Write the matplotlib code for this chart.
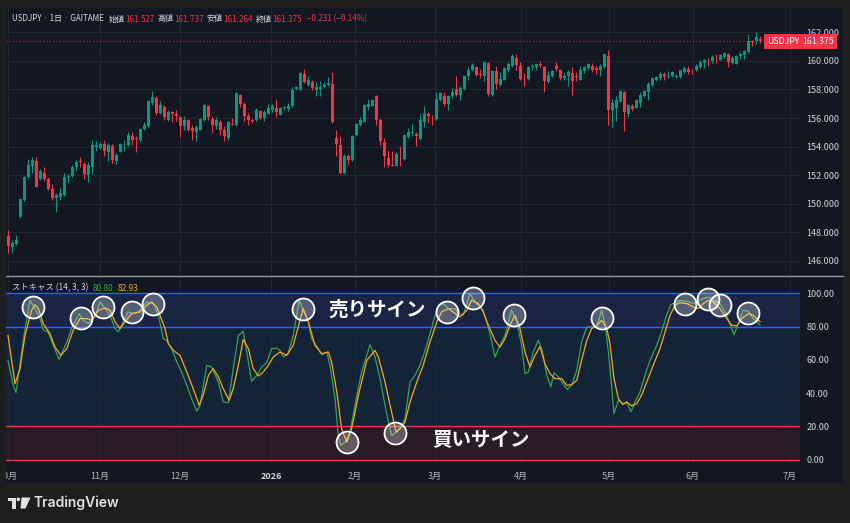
import matplotlib
matplotlib.use('Agg')
import matplotlib.pyplot as plt
import matplotlib.transforms as mtransforms
from matplotlib.patches import Rectangle, Polygon, Circle
from matplotlib.lines import Line2D
import numpy as np

plt.rcParams['font.family'] = ['Noto Sans CJK JP', 'DejaVu Sans']

# USDJPY daily candles
opens = [147.76, 146.99, 147.20, 149.05, 150.24, 151.85, 152.62, 153.02, 151.76, 152.15,
         151.76, 151.05, 150.40, 150.47, 150.63, 151.87, 151.92, 152.55, 152.99, 152.78,
         152.00, 152.60, 154.00, 153.92, 154.16, 153.60, 154.07, 153.02, 153.64, 154.10,
         154.09, 154.77, 154.58, 154.49, 155.23, 155.42, 157.03, 157.43, 156.35, 156.80,
         155.89, 156.40, 156.26, 156.07, 155.42, 155.84, 155.28, 155.00, 155.19, 155.84,
         156.82, 155.93, 155.42, 155.70, 155.19, 154.60, 155.61, 155.49, 157.64, 157.00,
         156.16, 155.84, 155.84, 156.47, 155.98, 156.30, 156.59, 156.68, 156.24, 156.68,
         156.63, 156.82, 158.06, 157.99, 159.11, 158.34, 158.55, 157.99, 158.06, 158.15,
         158.29, 158.38, 154.60, 154.14, 152.15, 153.32, 153.04, 154.84, 155.54, 155.75,
         156.77, 156.87, 157.52, 155.84, 154.35, 153.18, 152.74, 152.67, 153.37, 153.13,
         154.67, 154.95, 154.86, 154.56, 155.75, 156.30, 156.17, 155.93, 157.29, 157.52,
         157.00, 157.52, 158.06, 157.64, 158.03, 158.92, 159.34, 159.57, 159.08, 158.97,
         159.83, 157.64, 159.27, 158.34, 158.69, 159.34, 159.67, 160.20, 159.67, 158.80,
         158.76, 159.55, 159.57, 159.76, 159.57, 158.50, 158.92, 159.62, 159.34, 158.78,
         158.97, 159.15, 158.97, 158.69, 159.29, 159.48, 159.62, 159.53, 159.39, 159.57,
         160.36, 156.54, 156.68, 157.15, 157.85, 156.26, 156.86, 156.73, 157.05, 157.57,
         157.80, 158.34, 158.64, 158.78, 159.06, 158.85, 158.92, 158.87, 158.87, 159.25,
         159.43, 159.25, 159.34, 159.57, 159.85, 160.09, 159.99, 160.23, 160.09, 160.27,
         160.50, 159.85, 159.81, 160.32, 160.41, 160.60, 161.39, 161.39, 161.527]
highs = [148.18, 147.48, 147.79, 150.38, 151.95, 153.13, 153.27, 153.27, 152.43, 152.60,
         151.87, 151.40, 150.75, 151.10, 152.15, 152.10, 152.74, 153.09, 153.27, 152.90,
         152.90, 154.49, 154.37, 154.30, 154.49, 154.25, 154.20, 153.55, 154.25, 154.44,
         155.05, 155.00, 154.72, 155.30, 155.74, 157.29, 157.92, 157.52, 157.17, 156.89,
         156.54, 156.49, 156.59, 156.17, 156.17, 155.93, 155.54, 155.54, 156.00, 157.00,
         156.94, 156.12, 156.07, 155.89, 155.42, 155.77, 156.00, 157.80, 157.71, 157.10,
         156.35, 155.93, 156.68, 156.59, 156.54, 157.00, 157.00, 157.33, 156.77, 156.87,
         157.05, 158.17, 158.22, 159.20, 159.43, 158.92, 158.64, 158.55, 158.59, 158.55,
         158.87, 159.25, 155.19, 154.77, 153.51, 153.51, 154.84, 155.65, 156.07, 157.00,
         157.33, 157.33, 157.64, 156.00, 154.60, 153.79, 153.69, 153.60, 154.02, 154.88,
         155.30, 155.61, 155.05, 156.30, 156.87, 156.40, 156.21, 157.85, 157.85, 157.85,
         157.64, 158.08, 158.92, 158.22, 159.04, 159.55, 159.85, 159.67, 159.43, 159.95,
         159.90, 159.34, 159.67, 159.20, 159.57, 159.90, 160.46, 160.50, 159.95, 159.15,
         159.67, 159.76, 159.85, 160.00, 159.67, 159.27, 159.39, 159.90, 159.43, 159.15,
         159.34, 159.55, 159.20, 159.67, 159.67, 159.85, 159.85, 159.67, 159.76, 160.50,
         160.79, 157.33, 157.52, 157.94, 157.90, 157.00, 157.00, 157.33, 157.80, 157.99,
         158.50, 158.83, 158.97, 159.20, 159.25, 159.29, 159.27, 159.11, 159.39, 159.62,
         159.67, 159.43, 159.76, 160.04, 160.13, 160.23, 160.41, 160.46, 160.50, 160.65,
         160.55, 160.36, 160.41, 160.65, 160.79, 161.86, 161.49, 162.00, 161.737]
lows = [146.58, 146.58, 147.13, 149.00, 150.20, 151.80, 152.15, 151.15, 151.64, 151.57,
        150.98, 150.24, 149.40, 150.28, 150.56, 151.45, 151.87, 152.39, 152.60, 151.75,
        151.52, 152.10, 153.67, 153.85, 153.32, 153.00, 152.85, 152.80, 153.60, 153.72,
        154.02, 154.14, 153.60, 154.42, 155.19, 155.35, 156.94, 156.21, 156.31, 155.84,
        155.82, 155.72, 155.77, 154.67, 155.19, 155.07, 154.49, 154.37, 155.14, 155.77,
        155.89, 154.95, 155.23, 154.81, 154.37, 154.49, 155.50, 155.42, 156.77, 155.77,
        155.54, 155.65, 155.77, 155.93, 155.77, 156.26, 156.45, 156.07, 156.21, 156.59,
        156.47, 156.77, 157.99, 157.94, 158.45, 158.22, 157.99, 157.52, 157.52, 158.10,
        158.22, 155.65, 153.32, 152.10, 152.10, 152.74, 152.97, 154.77, 155.47, 155.70,
        156.59, 156.82, 155.54, 154.14, 152.60, 152.60, 152.62, 152.62, 152.62, 153.09,
        154.60, 154.72, 154.02, 154.49, 155.40, 155.65, 155.54, 155.89, 157.17, 156.87,
        156.59, 157.40, 157.57, 157.29, 157.99, 158.69, 159.30, 158.97, 158.78, 158.59,
        157.52, 157.57, 158.04, 158.27, 158.64, 159.20, 159.57, 159.34, 158.64, 158.27,
        158.69, 159.34, 159.34, 159.57, 157.85, 158.45, 158.87, 159.30, 158.64, 158.69,
        158.27, 157.59, 158.59, 158.64, 159.15, 159.39, 159.25, 159.11, 158.97, 159.50,
        155.54, 155.40, 155.77, 157.10, 155.07, 156.07, 156.47, 156.68, 156.77, 157.48,
        157.29, 158.27, 158.59, 158.69, 158.64, 158.80, 158.87, 158.78, 158.80, 159.15,
        159.11, 159.11, 159.29, 159.53, 159.48, 159.62, 159.85, 159.85, 160.04, 160.20,
        159.57, 159.81, 159.76, 160.13, 160.13, 160.55, 161.02, 161.16, 161.264]
closes = [147.06, 147.23, 147.44, 150.33, 151.90, 152.69, 153.09, 151.15, 152.32, 151.76,
          151.05, 150.40, 150.59, 150.75, 151.90, 151.96, 152.60, 152.90, 152.90, 152.08,
          152.73, 154.09, 154.09, 154.20, 153.67, 154.14, 153.04, 153.41, 154.16, 154.14,
          154.81, 154.46, 154.53, 155.26, 155.53, 157.19, 157.47, 156.35, 156.89, 156.07,
          156.45, 156.26, 156.12, 155.47, 155.89, 155.19, 155.12, 155.37, 155.93, 156.94,
          156.07, 155.54, 155.84, 155.19, 154.77, 155.70, 155.54, 157.78, 157.00, 156.16,
          155.89, 155.77, 156.59, 156.00, 156.45, 156.68, 156.87, 156.40, 156.68, 156.77,
          156.87, 157.94, 158.15, 159.15, 158.50, 158.64, 158.10, 158.15, 158.15, 158.34,
          158.45, 155.72, 154.20, 152.15, 153.37, 153.09, 154.77, 155.61, 155.84, 156.94,
          157.00, 157.24, 155.89, 154.42, 153.32, 152.74, 152.67, 153.51, 153.32, 154.84,
          155.00, 155.05, 154.72, 155.89, 156.35, 156.12, 156.12, 157.33, 157.75, 157.00,
          157.57, 157.85, 157.64, 158.08, 158.97, 159.34, 159.74, 159.04, 159.01, 159.90,
          157.71, 159.27, 158.41, 158.73, 159.48, 159.81, 160.32, 159.74, 158.73, 158.78,
          159.55, 159.62, 159.76, 159.72, 158.57, 159.04, 159.29, 159.43, 158.80, 158.97,
          159.20, 158.62, 158.85, 159.39, 159.57, 159.76, 159.34, 159.39, 159.62, 160.46,
          156.59, 157.05, 157.24, 157.89, 156.40, 156.91, 156.65, 157.24, 157.61, 157.89,
          158.41, 158.78, 158.85, 159.11, 158.92, 158.97, 159.20, 158.97, 159.34, 159.53,
          159.25, 159.20, 159.67, 159.95, 160.09, 160.04, 160.27, 160.18, 160.41, 160.55,
          159.95, 160.23, 160.36, 160.50, 160.69, 161.39, 161.30, 161.67, 161.375]

# Stochastic (14, 3, 3): %K and %D, vertices (bar index, value)
k_idx = [0, 1.3, 2, 4, 5.5, 6.75, 8, 8.8, 10, 11.3, 12.8, 14.7, 15.9, 17.8, 18.8, 20, 21.75,
         23, 24.25, 25.5, 26.75, 27.6, 28.8, 30, 31.3, 32.6, 34.7, 36.3, 37.6, 38.8, 39.7,
         40.9, 42.2, 43.4, 44.7, 45.9, 47.2, 48, 49.7, 50.9, 52.6, 53.8, 55.1, 56.3, 57.6,
         58.8, 59.7, 60.9, 62.2, 63.4, 64.7, 65.9, 67.2, 68, 68.8, 70, 71.3, 72.8, 73.8,
         75.1, 75.9, 77.6, 78.4, 79.7, 80.5, 81.75, 82.6, 83.2, 84.25, 85.5, 86.75, 88.4,
         90.5, 91.75, 93, 94.25, 95.1, 95.9, 97.2, 98.4, 99.25, 100.5, 101.75, 103, 104.7,
         106.3, 107.6, 108.8, 110.1, 111.75, 112.6, 113.8, 115.5, 116.75, 118.8, 120.5,
         121.75, 123, 124.25, 125.9, 127.2, 128.4, 129.25, 130.1, 131.3, 132.6, 133.5,
         134.7, 135.7, 136.5, 137.6, 138.7, 139.8, 140.9, 142.2, 143.4, 144.7, 145.9, 147.2,
         148.4, 149.25, 150.1, 150.9, 151.5, 152.6, 153.8, 154.8, 155.7, 156.75, 158,
         159.25, 160.5, 162.2, 163.4, 164.5, 165.7, 166.75, 168, 169.7, 171.3, 172.6, 173.8,
         175.1, 176.3, 178, 179.25, 180.3, 181.5, 182.6, 183.8, 185.1, 186.3, 188]
k_val = [59.7, 44.7, 40.3, 74.7, 95.8, 90.8, 84.8, 77.8, 76.8, 68.7, 60.3, 70.7, 78.8, 87.8,
         83.8, 81.8, 85.8, 94.8, 90.8, 86.8, 78.8, 76.8, 82.8, 88.8, 87.8, 88.8, 94.8, 93.8,
         86.8, 72.7, 71.7, 66.7, 58.7, 52.7, 44.7, 36.7, 29.1, 32.7, 56.7, 55.7, 46.7, 34.7,
         34.3, 54.7, 74.7, 77.2, 64.7, 47.1, 50.7, 55.7, 58.3, 66.7, 67.1, 65.7, 61.7, 63.7,
         74.7, 95.8, 89.8, 82.8, 72.7, 66.7, 63.1, 64.7, 56.7, 36.7, 13.6, 8.6, 10.6, 16.6,
         32.7, 52.7, 69.1, 61.7, 48.7, 32.7, 22.6, 14.6, 16.6, 20.6, 24.6, 46.7, 50.7, 56.7,
         68.7, 82.8, 92.8, 93.8, 90.8, 90.8, 87.8, 86.8, 99.8, 94.8, 89.8, 75.7, 61.7, 68.7,
         74.7, 89.8, 82.8, 68.7, 51.7, 52.7, 64.7, 71.7, 66.0, 50.7, 43.7, 52.3, 49.7, 45.7,
         42.3, 44.7, 53.7, 70.7, 79.8, 79.8, 79.8, 89.8, 81.8, 64.7, 44.7, 27.7, 35.7, 33.7,
         34.3, 28.7, 34.7, 40.7, 50.7, 59.7, 68.7, 76.8, 85.8, 93.2, 94.4, 95.8, 95.2, 93.8,
         95.8, 96.8, 97.8, 95.8, 93.8, 88.8, 82.8, 75.1, 81.8, 89.8, 89.2, 84.8, 80.80]
d_idx = [0, 1.75, 3, 4.25, 5.9, 6.75, 7.6, 8.8, 10.5, 11.75, 13.2, 14.7, 16.3, 18, 19.7,
         20.9, 22.6, 24.25, 25.5, 26.75, 28, 29.25, 30.9, 33, 34.7, 35.9, 37.2, 38, 39.25,
         40.1, 41.3, 43, 44.7, 46.3, 47.8, 48.8, 50.1, 51.3, 52.6, 53.8, 55.3, 56.3, 57.6,
         58.8, 60.1, 61.3, 62.6, 63.8, 65.1, 66.3, 68, 69.7, 71.3, 73, 73.8, 75.1, 76.75,
         78.4, 80.1, 80.9, 82.2, 83.4, 84.7, 85.9, 87.6, 89.7, 91.75, 92.6, 94.25, 95.9, 97,
         98, 99.25, 100.5, 102.2, 103.8, 105.5, 107.2, 108.4, 110.1, 111.3, 113, 114.7,
         115.9, 117.6, 118.8, 120.1, 121.75, 123, 124.25, 125.5, 126.75, 128, 129.25, 130.5,
         131.75, 133, 134.25, 135.5, 136.75, 138.4, 139.7, 140.9, 142.2, 143.4, 144.7, 145.9,
         147.2, 148.4, 149.7, 150.5, 151.5, 152.6, 153.7, 154.7, 155.9, 157.2, 158.4, 159.7,
         161.3, 163, 164.25, 165.5, 166.75, 168, 169.7, 171.3, 172.6, 173.8, 175.1, 176.3,
         178, 179.7, 180.9, 182.2, 183.4, 185.1, 186.3, 188]
d_val = [74.7, 45.7, 54.7, 74.7, 89.8, 93.2, 90.8, 81.8, 75.7, 67.7, 62.7, 66.7, 77.8, 84.8,
         84.8, 83.8, 89.8, 91.2, 89.8, 82.8, 78.8, 82.8, 87.8, 88.8, 92.8, 94.8, 91.8, 86.8,
         78.8, 69.7, 65.7, 62.7, 52.7, 42.7, 32.7, 38.7, 50.7, 54.7, 49.7, 42.7, 35.7, 42.7,
         56.7, 72.3, 66.7, 54.7, 50.3, 52.7, 56.7, 61.7, 64.7, 62.7, 68.7, 83.8, 90.8, 82.8,
         68.7, 63.7, 64.7, 58.7, 40.7, 18.6, 10.6, 18.6, 38.7, 59.7, 65.7, 61.7, 46.7, 28.7,
         16.6, 18.6, 22.6, 34.7, 46.7, 56.7, 70.7, 82.8, 88.8, 90.8, 88.8, 85.8, 89.8, 95.8,
         93.8, 88.8, 80.8, 71.7, 67.7, 72.7, 80.8, 86.8, 78.8, 64.7, 55.7, 62.7, 68.0, 57.7,
         51.7, 48.7, 48.7, 44.7, 45.1, 47.7, 59.7, 71.7, 78.8, 80.4, 83.8, 78.8, 69.7, 48.7,
         36.7, 33.1, 34.7, 32.3, 33.7, 38.7, 46.7, 56.7, 66.7, 76.8, 86.8, 92.8, 94.4, 93.8,
         91.8, 90.8, 93.8, 95.8, 94.8, 90.8, 84.8, 80.8, 80.4, 84.8, 87.8, 86.8, 82.93]

# highlighted turning points (circled)
sig_idx = [6.3, 18.2, 23.8, 30.9, 36.3, 73.7, 84.7, 96.75, 109.7, 116.3, 126.6,
           148.6, 169.25, 175.1, 178, 185.1]
sig_val = [91.9, 85.0, 91.9, 88.6, 93.4, 90.6, 10.5, 16.2, 88.6, 97.0, 87.0,
           85.0, 93.6, 96.6, 93.0, 88.0]

month_pos = [0, 23, 43, 65.75, 86.75, 106.75, 128.25, 150.25, 171.25, 195.5]
month_labels = ['10月', '11月', '12月', '2026', '2月', '3月', '4月', '5月', '6月', '7月']
price_ticks = [146, 148, 150, 152, 154, 156, 158, 160, 162]
stoch_ticks = [0, 20, 40, 60, 80, 100]
last_price = 161.375

BG = '#131722'
OUTER = '#1e1e1e'
UP = '#089981'
DOWN = '#f23645'
GRID = '#222631'
TXT = '#d1d4dc'
K_COL = '#3c9f50'
D_COL = '#f5a623'

fig = plt.figure(figsize=(8.5, 5.23), dpi=100, facecolor=OUTER)
# pixel coordinates measured from the top-left corner
px = mtransforms.Affine2D().scale(1, -1).translate(0, 523)

fig.add_artist(Rectangle((6, 8), 837, 475, transform=px, fc=BG, ec='none', zorder=-1))

ax = fig.add_axes([6 / 850, 248 / 523, 794 / 850, 267 / 523])
ax2 = fig.add_axes([6 / 850, 57 / 523, 794 / 850, 189 / 523], sharex=ax)

# ---- price pane ----
idx = np.arange(len(opens))
o = np.array(opens); h = np.array(highs); l = np.array(lows); c = np.array(closes)
cols = np.where(c >= o, UP, DOWN)
ax.vlines(idx, l, h, colors=cols, lw=0.8, zorder=3)
ax.bar(idx, np.maximum(np.abs(c - o), 0.03), bottom=np.minimum(o, c), width=0.75,
       color=cols, lw=0, zorder=4)
ax.axhline(last_price, color=DOWN, lw=0.8, ls=(0, (1, 2)), alpha=0.7, zorder=2)

ax.set_facecolor(BG)
ax.set_xlim(-0.5, 198)
ax.set_ylim(145.02, 163.70)
ax.yaxis.tick_right()
ax.set_yticks(price_ticks)
ax.set_yticklabels([f'{p:.3f}' for p in price_ticks])
ax.tick_params(axis='y', length=0, pad=4.5, labelsize=6.5, labelcolor=TXT)
ax.tick_params(axis='x', length=0, labelbottom=False)
ax.grid(True, color=GRID, lw=0.8)
ax.set_axisbelow(True)
for s in ax.spines.values():
    s.set_visible(False)

blend = mtransforms.blended_transform_factory(ax.transAxes, ax.transData)
ax.text(0.999, last_price, 'USDJPY', transform=blend, ha='right', va='center', color='white',
        fontsize=6.3, bbox=dict(boxstyle='square,pad=0.35', fc=DOWN, ec='none'), zorder=6)
ax.text(1.003, last_price, f'{last_price:.3f}', transform=blend, ha='left', va='center',
        color='white', fontsize=6.3, bbox=dict(boxstyle='square,pad=0.35', fc=DOWN, ec='none'),
        zorder=6)

# ---- stochastic pane ----
ax2.set_facecolor(BG)
ax2.axhspan(80, 100, color='#1a2444', lw=0, zorder=0)
ax2.axhspan(20, 80, color='#132438', lw=0, zorder=0)
ax2.axhspan(0, 20, color='#2a1b27', lw=0, zorder=0)
ax2.axhline(100, color='#2962ff', lw=1, zorder=2)
ax2.axhline(80, color='#2962ff', lw=1, zorder=2)
ax2.axhline(20, color=DOWN, lw=1, zorder=2)
ax2.axhline(0, color=DOWN, lw=1, zorder=2)
ax2.plot(k_idx, k_val, color=K_COL, lw=0.9, zorder=3)
ax2.plot(d_idx, d_val, color=D_COL, lw=0.9, zorder=3)
ax2.scatter(sig_idx, sig_val, s=250, facecolor=(1, 1, 1, 0.27), edgecolor='white',
            lw=1.3, zorder=5)
ax2.text(92.25, 90, '売りサイン', ha='center', va='center', fontsize=14, fontweight='bold',
         color='white', zorder=6)
ax2.text(118.25, 11.8, '買いサイン', ha='center', va='center', fontsize=14, fontweight='bold',
         color='white', zorder=6)

ax2.set_ylim(-3.8, 109.8)
ax2.yaxis.tick_right()
ax2.set_yticks(stoch_ticks)
ax2.set_yticklabels([f'{v:.2f}' for v in stoch_ticks])
ax2.tick_params(axis='y', length=0, pad=4.5, labelsize=6.5, labelcolor=TXT)
ax2.set_xticks(month_pos)
ax2.set_xticklabels(month_labels)
ax2.tick_params(axis='x', length=0, pad=4, labelsize=6.5, labelcolor='#b2b5be')
for lab in ax2.get_xticklabels():
    if lab.get_text() == '2026':
        lab.set_fontweight('bold')
        lab.set_color(TXT)
ax2.grid(True, color=GRID, lw=0.8)
ax2.set_axisbelow(True)
for s in ax2.spines.values():
    s.set_visible(False)

# pane separator
fig.add_artist(Line2D([6, 843], [276, 276], transform=px, color='#9598a1', lw=1, zorder=3))


def chain(target, parts, x, y, size):
    prev = fig.text(x, y, parts[0][0], transform=px, color=parts[0][1], fontsize=size,
                    va='center', zorder=8)
    for s, col, gap in parts[1:]:
        prev = target.annotate(s, xy=(1, 0), xycoords=prev, xytext=(gap, 0),
                               textcoords='offset points', color=col, fontsize=size,
                               va='bottom', annotation_clip=False, zorder=8)


chain(ax, [('USDJPY · 1日 · GAITAME', TXT),
           ('始値', TXT, 3.5), ('161.527', DOWN, 0.2),
           ('高値', TXT, 2.5), ('161.737', DOWN, 0.2),
           ('安値', TXT, 2.5), ('161.264', DOWN, 0.2),
           ('終値', TXT, 2.5), ('161.375', DOWN, 0.2),
           ('−0.231 (−0.14%)', DOWN, 3.5)], 12, 19, 5.8)
chain(ax2, [('ストキャス (14, 3, 3)', TXT), ('80.80', K_COL, 3), ('82.93', D_COL, 3)],
      12, 288, 6.0)

# left frame strip over the clipped first label
fig.add_artist(Rectangle((0, 0), 6, 523, transform=px, fc=OUTER, ec='none', zorder=10))

# TradingView logo
logo = '#e3e3e3'
fig.add_artist(Polygon([(7.5, 497.5), (15.5, 497.5), (15.5, 508.5), (11.5, 508.5),
                        (11.5, 501.2), (7.5, 501.2)], closed=True, transform=px,
                       fc=logo, ec='none'))
fig.add_artist(Circle((18.3, 499.4), 1.8, transform=px, fc=logo, ec='none'))
fig.add_artist(Polygon([(21.5, 497.5), (30.5, 497.5), (25.5, 508.5), (20.5, 508.5)],
                       closed=True, transform=px, fc=logo, ec='none'))
fig.text(33, 503, 'TradingView', transform=px, color=logo, fontsize=10,
         fontweight='semibold', family=['Inter', 'DejaVu Sans'], va='center')

fig.savefig('out.png', dpi=100, facecolor=OUTER)
